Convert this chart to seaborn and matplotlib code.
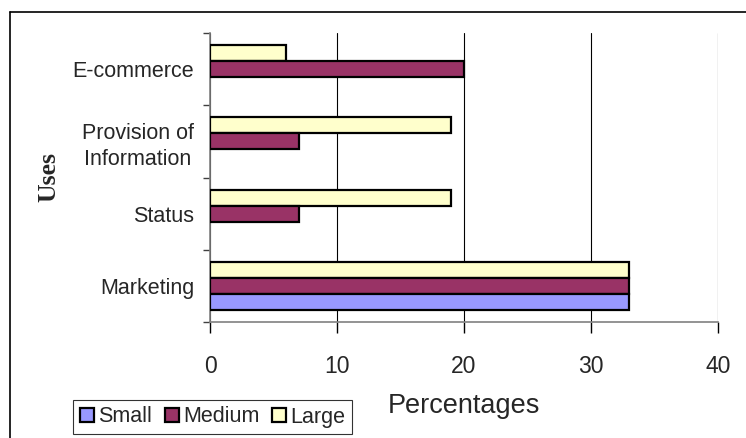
import numpy as np
import pandas as pd
import matplotlib
matplotlib.use("Agg")
import matplotlib.pyplot as plt
from matplotlib.patches import Patch
from matplotlib.lines import Line2D
import seaborn as sns

# ---- data ----
uses = ["E-commerce", "Provision of\nInformation", "Status", "Marketing"]
small = [0, 0, 0, 33]
medium = [20, 7, 7, 33]
large = [6, 19, 19, 33]
sizes = ["Small", "Medium", "Large"]
colors = {"Small": "#9999FF", "Medium": "#993366", "Large": "#FFFFCC"}
xticks = [0, 10, 20, 30, 40]

rows = []
for u, s, m, l in zip(uses, small, medium, large):
    rows.append((u, "Small", s))
    rows.append((u, "Medium", m))
    rows.append((u, "Large", l))
df = pd.DataFrame(rows, columns=["Uses", "Size", "Pct"])

sns.set_style("white")
plt.rcParams["font.family"] = ["Liberation Sans", "DejaVu Sans"]

W, H = 746, 438
fig = plt.figure(figsize=(W / 100, H / 100), dpi=100)
ax = fig.add_axes([210 / W, 1 - 322 / H, (718 - 210) / W, (322 - 33) / H])

sns.barplot(data=df, y="Uses", x="Pct", hue="Size", order=uses,
            hue_order=["Large", "Medium", "Small"], palette=colors,
            saturation=1, orient="h", width=0.664, errorbar=None,
            edgecolor="black", linewidth=1.6, legend=False, ax=ax, zorder=3)

# hide zero-length bars
for p in ax.patches:
    if p.get_width() == 0:
        p.set_visible(False)

ax.set_xlim(0, 40)
ax.set_ylim(3.5, -0.5)
ax.set_xticks(xticks)
ax.set_xticklabels([str(t) for t in xticks], fontsize=16.5)
ax.tick_params(axis="x", length=8, width=1, color="black", pad=16,
               direction="out", bottom=True)
ax.set_yticks(range(len(uses)))
ax.set_yticklabels(uses, fontsize=15.5, multialignment="center", linespacing=1.3)
ax.set_yticks(np.arange(-0.5, len(uses), 1.0), minor=True)
ax.tick_params(axis="y", which="major", length=0, pad=11.5)
ax.tick_params(axis="y", which="minor", length=5, width=1, color="#404040",
               direction="out", left=True)

ax.grid(axis="x", color="black", linewidth=0.8, zorder=0)
ax.grid(axis="y", visible=False)
ax.set_axisbelow(True)
for side in ["top", "right"]:
    ax.spines[side].set_visible(False)
for side in ["left", "bottom"]:
    ax.spines[side].set_visible(True)
    ax.spines[side].set_color("#808080")
    ax.spines[side].set_linewidth(1.2)

ax.set_xlabel("Percentages", fontsize=19.5)
ax.xaxis.set_label_coords(0.5, -0.245)
ax.set_ylabel("Uses", fontsize=18.5, fontweight="bold",
              family=["Liberation Serif", "DejaVu Serif"], va="center", ha="center")
ax.yaxis.set_label_coords(-0.318, 0.5)

handles = [Patch(facecolor=colors[s], edgecolor="black", linewidth=1.6, label=s)
           for s in sizes]
leg = fig.legend(handles=handles, loc="center", bbox_to_anchor=(212.5 / W, 1 - 417 / H),
                 ncol=3, fontsize=15.5, frameon=True, fancybox=False,
                 handlelength=0.65, handleheight=0.65, handletextpad=0.2,
                 columnspacing=0.6, borderpad=0.3)
leg.get_frame().set_edgecolor("black")
leg.get_frame().set_linewidth(0.8)

# outer chart border (left and top visible)
fig.add_artist(Line2D([9.5 / W, 9.5 / W], [0, 1 - 12 / H], color="black",
                      linewidth=1.2, transform=fig.transFigure))
fig.add_artist(Line2D([9.5 / W, 1], [1 - 12 / H, 1 - 12 / H], color="black",
                      linewidth=1.2, transform=fig.transFigure))

fig.savefig("out.png", dpi=100)
